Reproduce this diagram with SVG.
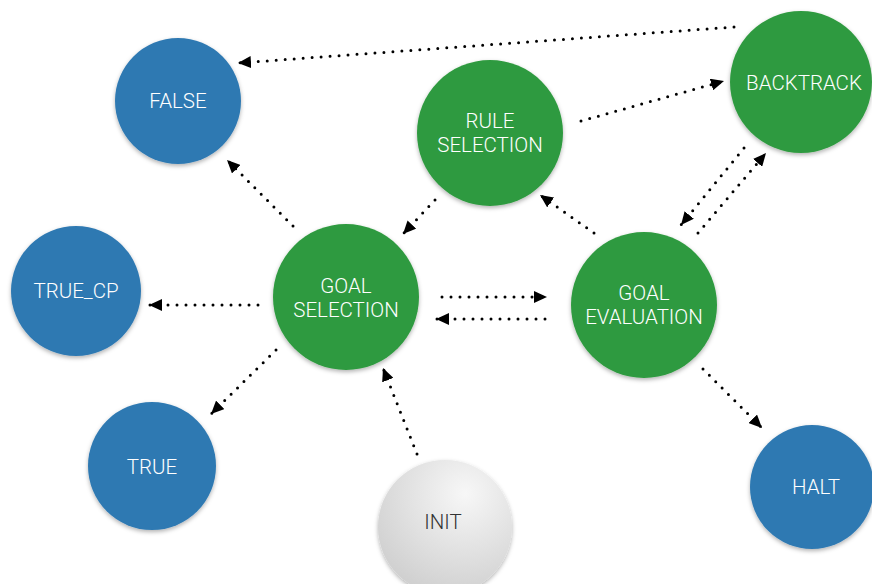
<svg xmlns="http://www.w3.org/2000/svg" width="872" height="584" viewBox="0 0 872 584">
<defs>
<style>
.blue{fill:#2f79b2}
.green{fill:#2f9a3f}
.node circle{filter:url(#sh)}
.lbl{font-family:Roboto,"Liberation Sans",Arial,sans-serif;font-weight:300;font-size:20.5px;fill:#ffffff;text-anchor:middle}
.dark{fill:#333333}
.edge{fill:none;stroke:#000;stroke-width:3;stroke-linecap:round;stroke-dasharray:0 9;marker-end:url(#ah)}
</style>
<marker id="ah" markerUnits="userSpaceOnUse" markerWidth="14" markerHeight="12" refX="13" refY="6" orient="auto">
<path d="M0,0 L13,6 L0,12 Z" fill="#000"/>
</marker>
<filter id="sh" x="-20%" y="-20%" width="140%" height="140%">
<feDropShadow dx="0" dy="2" stdDeviation="2" flood-color="#000" flood-opacity="0.3"/>
</filter>
<radialGradient id="ig" cx="65%" cy="25%" r="80%">
<stop offset="0" stop-color="#f7f7f7"/>
<stop offset="1" stop-color="#cfcfcf"/>
</radialGradient>
</defs>
<rect width="872" height="584" fill="#ffffff"/>
<g id="connectors">
<path class="edge" d="M734,27 L238,63"/>
<path class="edge" d="M293,226 L227,160"/>
<path class="edge" d="M435,200 L403,234"/>
<path class="edge" d="M581,121 L724,81"/>
<path class="edge" d="M594,233 L540,195"/>
<path class="edge" d="M744,148 L681,225"/>
<path class="edge" d="M698,233 L766,153"/>
<path class="edge" d="M442,297 L547,297"/>
<path class="edge" d="M545,319 L436,319"/>
<path class="edge" d="M258,305 L149,305"/>
<path class="edge" d="M276,350 L211,414"/>
<path class="edge" d="M417,454 L383,368"/>
<path class="edge" d="M703,369 L762,428"/>
</g>
<g id="false" class="node"><circle class="blue" cx="178" cy="101" r="63"/><text class="lbl" x="178" y="108">FALSE</text></g>
<g id="true_cp" class="node"><circle class="blue" cx="76" cy="291" r="65"/><text class="lbl" x="76" y="298">TRUE_CP</text></g>
<g id="true" class="node"><circle class="blue" cx="152" cy="466" r="64"/><text class="lbl" x="152" y="474">TRUE</text></g>
<g id="halt" class="node"><circle class="blue" cx="812" cy="487" r="62"/><text class="lbl" x="816" y="494">HALT</text></g>
<g id="goal_selection" class="node"><circle class="green" cx="346" cy="297" r="73"/><text class="lbl" x="346" y="293">GOAL</text><text class="lbl" x="346" y="317">SELECTION</text></g>
<g id="rule_selection" class="node"><circle class="green" cx="490" cy="133" r="73"/><text class="lbl" x="490" y="128">RULE</text><text class="lbl" x="490" y="152">SELECTION</text></g>
<g id="goal_evaluation" class="node"><circle class="green" cx="644" cy="305" r="73"/><text class="lbl" x="644" y="300">GOAL</text><text class="lbl" x="644" y="324">EVALUATION</text></g>
<g id="backtrack" class="node"><circle class="green" cx="801" cy="82" r="71"/><text class="lbl" x="804" y="90">BACKTRACK</text></g>
<g id="init" class="node"><circle cx="445" cy="527" r="67" fill="url(#ig)"/><text class="lbl dark" x="443" y="529">INIT</text></g>
</svg>
